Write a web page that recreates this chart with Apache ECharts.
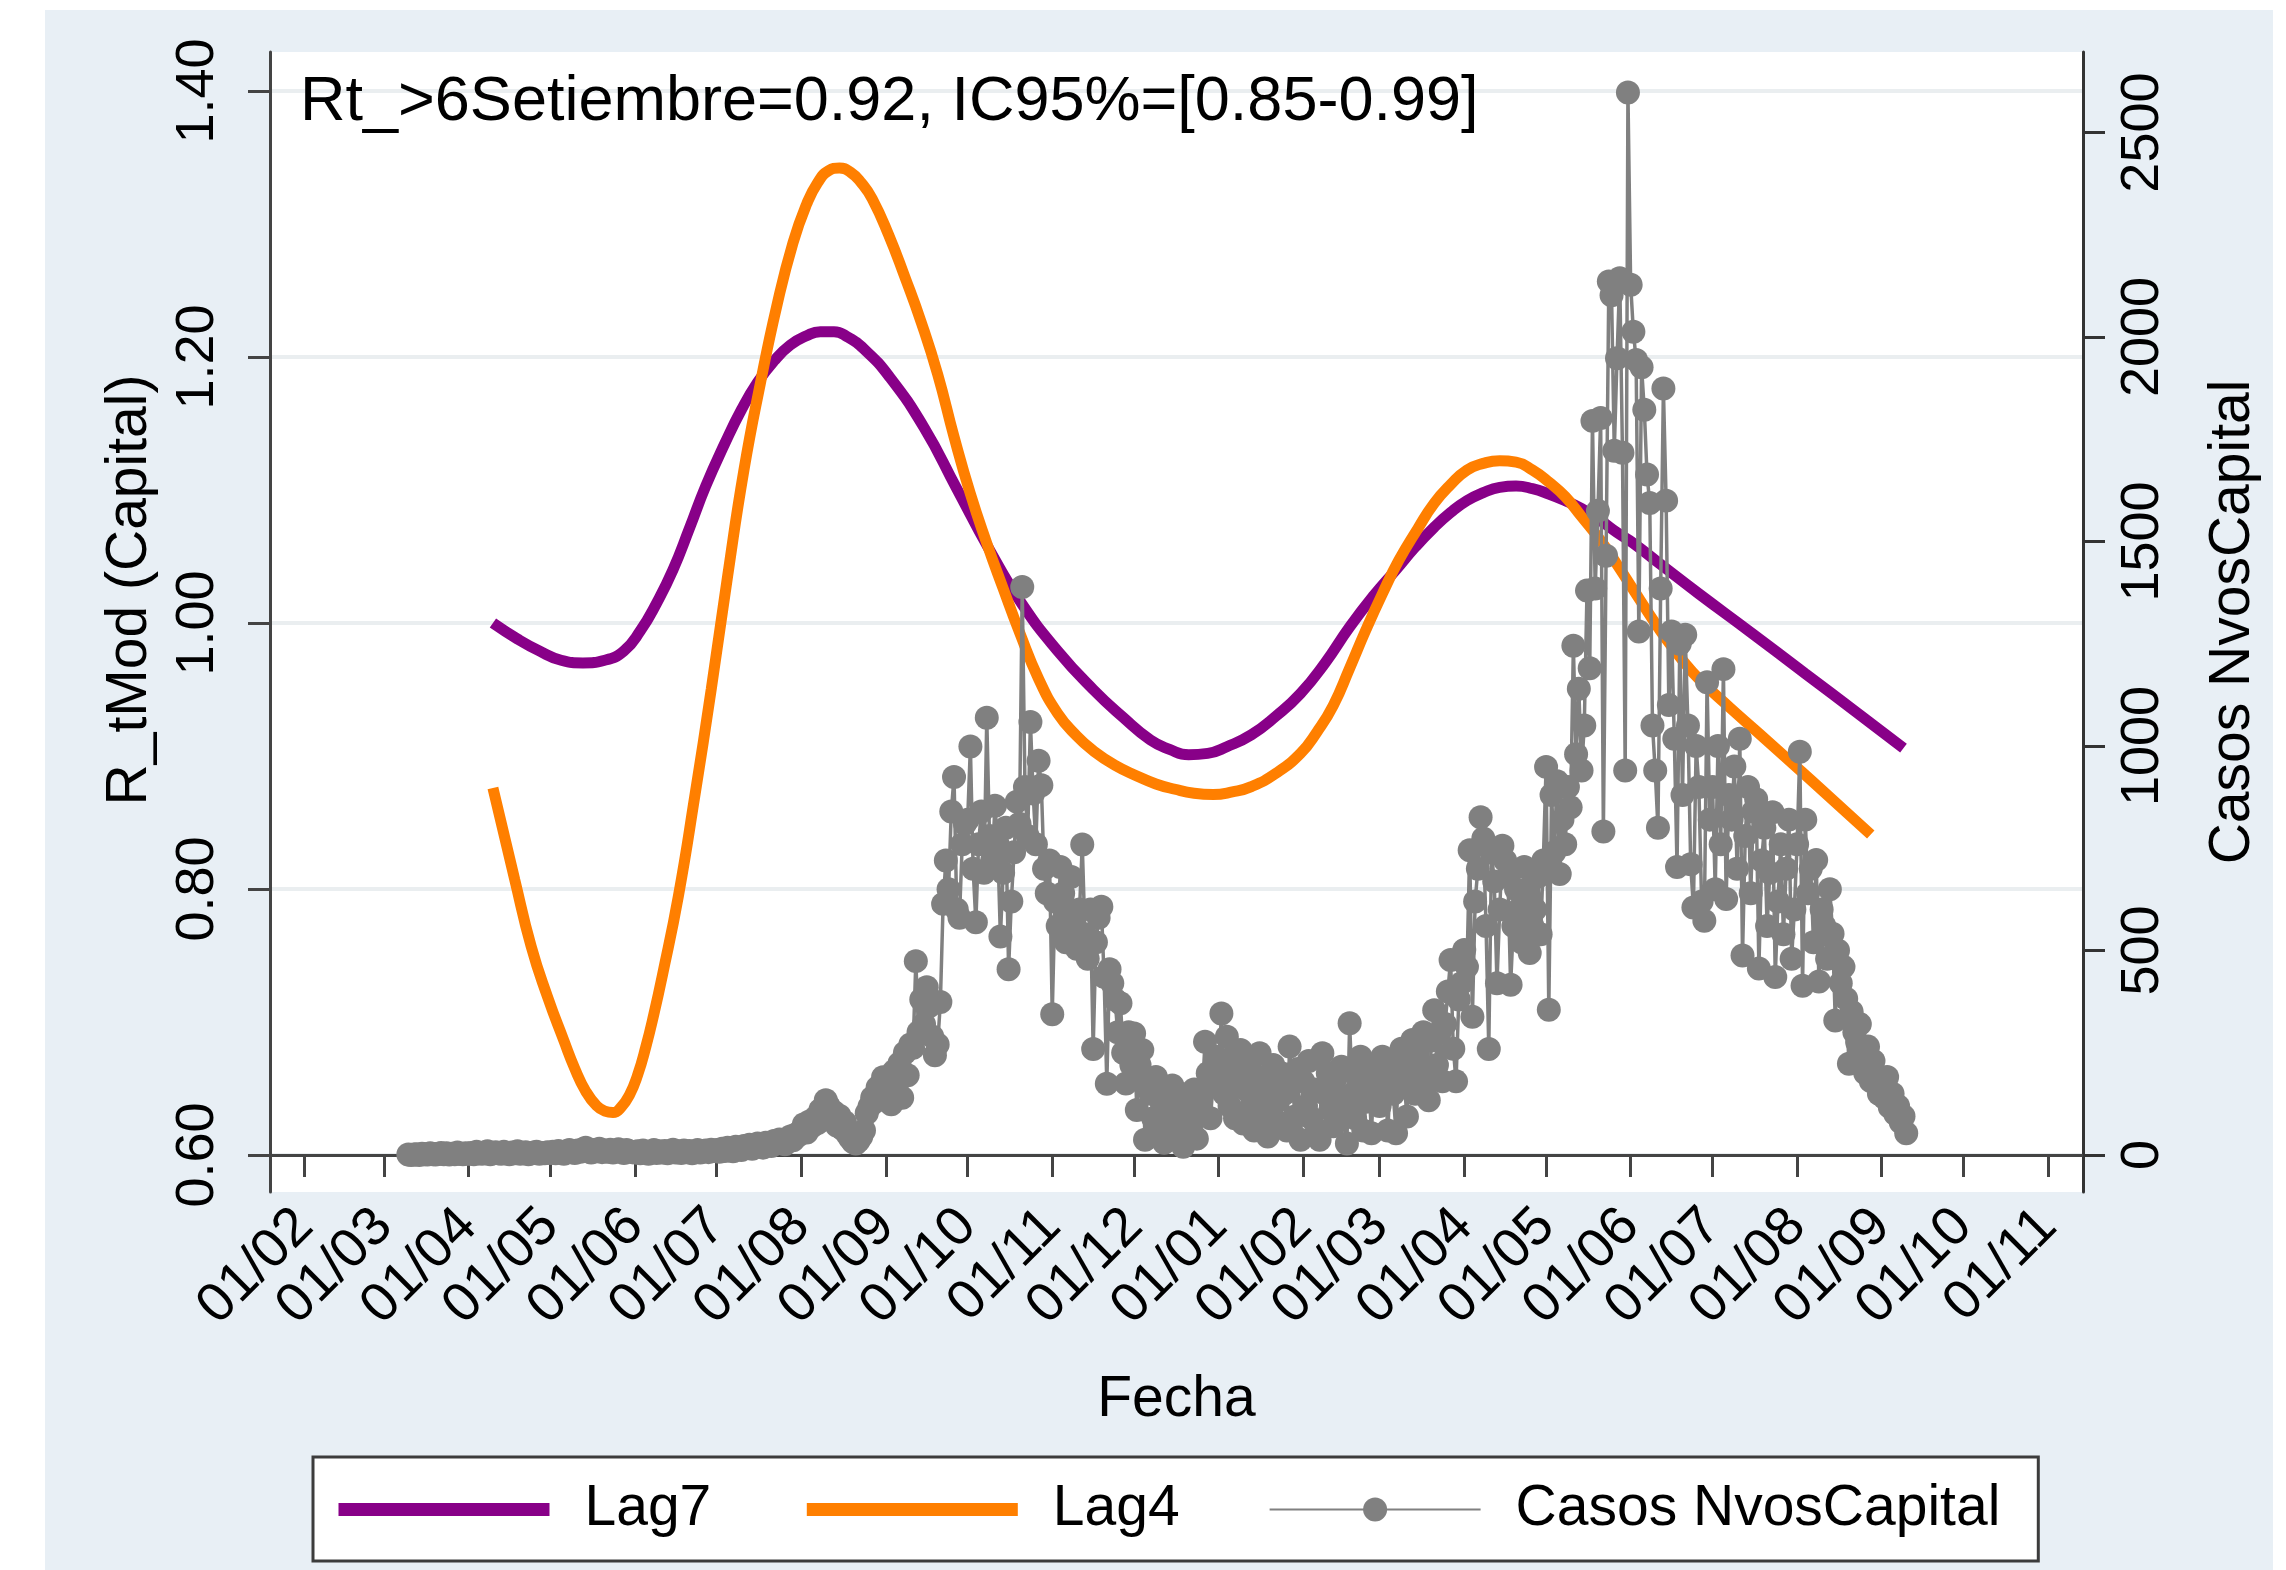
<!DOCTYPE html>
<html>
<head>
<meta charset="utf-8">
<title>R_tMod Capital</title>
<script src="https://cdn.jsdelivr.net/npm/echarts@6/dist/echarts.min.js"></script>
<style>
  html, body { margin: 0; padding: 0; background: #fff; }
  #Charts { width: 2286px; height: 1570px; }
</style>
</head>
<body>
<div id="Charts"></div>
<script>
// ticks del eje x (inicio de cada mes)
const fechaTicks = ['2020-02-01', '2020-03-01', '2020-04-01', '2020-05-01', '2020-06-01', '2020-07-01',
  '2020-08-01', '2020-09-01', '2020-10-01', '2020-11-01', '2020-12-01', '2021-01-01', '2021-02-01',
  '2021-03-01', '2021-04-01', '2021-05-01', '2021-06-01', '2021-07-01', '2021-08-01', '2021-09-01',
  '2021-10-01', '2021-11-01']
const xMin = '2020-01-19 07:00'
const xMax = '2021-11-13 19:00'

const rtTicks = [0.6, 0.8, 1.0, 1.2, 1.4]
const casosTicks = [0, 500, 1000, 1500, 2000, 2500]

// Lag7
const lag7Fechas = ['2020-04-10', '2020-04-19', '2020-04-27', '2020-05-05', '2020-05-13', '2020-05-21', '2020-05-28',
  '2020-06-03', '2020-06-09', '2020-06-15', '2020-06-21', '2020-06-27', '2020-07-04', '2020-07-10', '2020-07-16',
  '2020-07-22', '2020-07-28', '2020-08-03', '2020-08-08', '2020-08-13', '2020-08-18', '2020-08-24', '2020-09-02',
  '2020-09-15', '2020-09-27', '2020-10-09', '2020-10-21', '2020-11-03', '2020-11-16', '2020-11-27', '2020-12-07',
  '2020-12-14', '2020-12-21', '2020-12-28', '2021-01-04', '2021-01-13', '2021-01-22', '2021-01-31', '2021-02-09',
  '2021-02-18', '2021-02-27', '2021-03-07', '2021-03-14', '2021-03-21', '2021-03-27', '2021-04-02', '2021-04-08',
  '2021-04-14', '2021-04-20', '2021-04-26', '2021-05-02', '2021-05-08', '2021-05-14', '2021-05-21', '2021-05-27',
  '2021-06-02', '2021-06-12', '2021-06-26', '2021-07-15', '2021-08-04', '2021-08-24', '2021-09-09']
const lag7Valores = [1.000, 0.988, 0.979, 0.972, 0.970, 0.972, 0.979, 0.994, 1.015, 1.040, 1.071, 1.103, 1.135, 1.160,
  1.181, 1.197, 1.209, 1.216, 1.219, 1.219, 1.215, 1.206, 1.186, 1.147, 1.101, 1.055, 1.014, 0.979, 0.950, 0.929,
  0.912, 0.905, 0.901, 0.902, 0.907, 0.916, 0.930, 0.947, 0.970, 0.997, 1.021, 1.040, 1.057, 1.072, 1.083, 1.092,
  1.098, 1.102, 1.103, 1.101, 1.097, 1.092, 1.086, 1.077, 1.068, 1.060, 1.044, 1.022, 0.993, 0.962, 0.931, 0.906]

// Lag4
const lag4Fechas = ['2020-04-10', '2020-04-18', '2020-04-24', '2020-04-30', '2020-05-06', '2020-05-10', '2020-05-14',
  '2020-05-18', '2020-05-21', '2020-05-24', '2020-05-27', '2020-05-30', '2020-06-02', '2020-06-05', '2020-06-08',
  '2020-06-11', '2020-06-17', '2020-06-23', '2020-06-29', '2020-07-05', '2020-07-11', '2020-07-17', '2020-07-23',
  '2020-07-29', '2020-08-03', '2020-08-07', '2020-08-11', '2020-08-15', '2020-08-19', '2020-08-23', '2020-08-27',
  '2020-09-02', '2020-09-08', '2020-09-14', '2020-09-20', '2020-09-26', '2020-10-02', '2020-10-08', '2020-10-14',
  '2020-10-20', '2020-10-27', '2020-11-03', '2020-11-10', '2020-11-16', '2020-11-24', '2020-12-02', '2020-12-09',
  '2020-12-16', '2020-12-23', '2020-12-30', '2021-01-06', '2021-01-13', '2021-01-22', '2021-01-31', '2021-02-06',
  '2021-02-12', '2021-02-18', '2021-02-24', '2021-03-02', '2021-03-08', '2021-03-15', '2021-03-21', '2021-03-27',
  '2021-04-02', '2021-04-08', '2021-04-14', '2021-04-20', '2021-04-26', '2021-05-02', '2021-05-08', '2021-05-14',
  '2021-05-21', '2021-05-27', '2021-06-02', '2021-06-08', '2021-06-14', '2021-06-20', '2021-06-26', '2021-07-07',
  '2021-07-18', '2021-08-06', '2021-08-28']
const lag4Valores = [0.876, 0.807, 0.757, 0.719, 0.686, 0.665, 0.648, 0.637, 0.633, 0.632, 0.636, 0.645, 0.660, 0.681,
  0.706, 0.734, 0.795, 0.870, 0.950, 1.035, 1.115, 1.180, 1.238, 1.286, 1.315, 1.331, 1.340, 1.342, 1.339, 1.331,
  1.319, 1.292, 1.260, 1.226, 1.187, 1.140, 1.097, 1.060, 1.026, 0.993, 0.958, 0.932, 0.915, 0.904, 0.893, 0.885,
  0.879, 0.875, 0.872, 0.871, 0.873, 0.877, 0.887, 0.902, 0.918, 0.938, 0.966, 0.995, 1.022, 1.047, 1.071, 1.090,
  1.104, 1.115, 1.120, 1.122, 1.121, 1.115, 1.106, 1.095, 1.080, 1.062, 1.044, 1.025, 1.006, 0.988, 0.972, 0.958,
  0.937, 0.917, 0.882, 0.841]

// Casos nuevos diarios, desde casosInicio
const casosInicio = '2020-03-10'
const casosMar20 = [1, 0, 1, 2, 0, 3, 2, 1, 4, 2, 1, 3, 5, 2, 4, 1, 3, 2, 6, 3, 2, 4]
const casosAbr20 = [3, 5, 2, 8, 4, 3, 6, 9, 2, 5, 7, 4, 3, 8, 5, 2, 6, 4, 9, 3, 5, 7, 2, 4, 6, 8, 3, 5, 4, 7]
const casosMay20 = [5, 8, 4, 10, 6, 3, 9, 12, 7, 5, 11, 8, 14, 18, 10, 6, 12, 9, 15, 7, 11, 8, 13, 6, 10, 14, 8, 5, 12, 9, 7]
const casosJun20 = [6, 9, 4, 11, 7, 3, 8, 12, 5, 9, 6, 10, 4, 8, 13, 6, 9, 5, 11, 7, 10, 4, 8, 12, 6, 9, 11, 7, 13, 10]
const casosJul20 = [12, 8, 15, 10, 18, 14, 9, 20, 16, 12, 22, 18, 25, 15, 20, 28, 24, 18, 30, 26, 22, 34, 28, 38, 32, 26,
  40, 45, 36, 50, 48]
const casosAgo20 = [60, 75, 55, 82, 70, 90, 78, 110, 95, 134, 120, 88, 105, 72, 96, 64, 80, 50, 40, 32, 28, 35, 45, 60, 102,
  118, 140, 130, 165, 150, 190]
const casosSet20 = [150, 185, 124, 205, 170, 224, 140, 250, 195, 270, 262, 474, 300, 380, 320, 410, 364, 290, 244, 270, 374,
  614, 720, 650, 840, 924, 600, 580, 760, 810]
const casosOct20 = [820, 999, 700, 569, 760, 840, 690, 1069, 780, 720, 854, 760, 534, 690, 800, 454, 620, 740, 864, 810,
  1389, 900, 780, 1059, 884, 760, 964, 904, 700, 640, 720]
const casosNov20 = [344, 620, 560, 704, 640, 520, 600, 680, 560, 504, 600, 759, 540, 480, 600, 259, 520, 580, 607, 436, 174,
  454, 420, 380, 300, 371, 250, 175, 300, 220]
const casosDic20 = [297, 110, 220, 257, 37, 180, 150, 90, 191, 60, 140, 30, 120, 80, 170, 45, 100, 150, 20, 130, 90, 60, 160,
  40, 110, 150, 277, 200, 90, 180, 240]
const casosEne21 = [200, 346, 150, 289, 120, 230, 90, 180, 257, 77, 160, 210, 120, 60, 190, 249, 100, 140, 45, 170, 220, 130,
  80, 200, 150, 60, 265, 175, 94, 210, 37]
const casosFeb21 = [180, 120, 230, 90, 160, 60, 37, 249, 150, 200, 110, 70, 190, 140, 216, 100, 28, 322, 150, 90, 200, 240,
  60, 130, 180, 53, 210, 150]
const casosMar21 = [120, 240, 180, 60, 200, 150, 53, 230, 260, 180, 94, 220, 281, 150, 250, 200, 300, 170, 134, 280, 354,
  220, 300, 180, 320, 400, 477, 260, 180, 380, 420]
const casosAbr21 = [501, 460, 745, 338, 620, 700, 826, 774, 560, 259, 739, 669, 420, 600, 756, 720, 680, 416, 560, 650, 600,
  520, 704, 640, 494, 560, 600, 680, 540, 720]
const casosMay21 = [949, 355, 880, 740, 914, 687, 820, 760, 900, 850, 1245, 980, 1140, 940, 1050, 1380, 1190, 1795, 1385,
  1575, 1802, 791, 1465, 2136, 2102, 1722, 1948, 2144, 1717, 940, 2598]
const casosJun21 = [2128, 2013, 1944, 1280, 1926, 1822, 1664, 1594, 1050, 940, 800, 1385, 1874, 1600, 1100, 1280, 1018, 704,
  1250, 880, 1272, 1050, 711, 605, 1000, 900, 620, 573, 1156, 820]
const casosJul21 = [900, 650, 1000, 760, 1188, 626, 880, 820, 950, 700, 1018, 488, 780, 900, 640, 840, 870, 456, 720, 800,
  560, 690, 838, 435, 620, 760, 540, 700, 820, 480, 600]
const casosAgo21 = [760, 986, 414, 820, 640, 700, 520, 721, 424, 600, 560, 480, 650, 541, 329, 500, 420, 460, 382, 223, 350,
  300, 276, 320, 240, 200, 265, 181, 230, 190, 150]
const casosSet21 = [170, 140, 191, 117, 150, 100, 120, 80, 95, 53]

const casosValores = [].concat(casosMar20, casosAbr20, casosMay20, casosJun20, casosJul20, casosAgo20, casosSet20,
  casosOct20, casosNov20, casosDic20, casosEne21, casosFeb21, casosMar21, casosAbr21, casosMay21, casosJun21,
  casosJul21, casosAgo21, casosSet21)

const FONT = "'Liberation Sans', Arial, sans-serif"
const pad2 = (n) => (n < 10 ? '0' + n : '' + n)
const parse = (s) => +echarts.time.parse(s)

const [cy, cm, cd] = casosInicio.split('-').map(Number)
const casosData = casosValores.map((v, i) => [new Date(cy, cm - 1, cd + i).getTime(), v])
const lag7Data = lag7Fechas.map((f, i) => [parse(f), lag7Valores[i]])
const lag4Data = lag4Fechas.map((f, i) => [parse(f), lag4Valores[i]])
const tickValores = fechaTicks.map(parse)

let chart = echarts.init(document.getElementById('Charts'))
let option = {
  animation: false,
  textStyle: { fontFamily: FONT },
  graphic: [{
    type: 'rect',
    z: -10,
    silent: true,
    shape: { x: 45, y: 10, width: 2228, height: 1560 },
    style: { fill: '#e8eff5' }
  }],
  title: {
    text: 'Rt_>6Setiembre=0.92, IC95%=[0.85-0.99]',
    left: 300,
    top: 71,
    padding: 0,
    textStyle: { fontFamily: FONT, fontSize: 63, fontWeight: 'normal', color: '#000' }
  },
  grid: {
    left: 270, right: 203, top: 52, bottom: 378,
    show: true, backgroundColor: '#fff', borderWidth: 0
  },
  legend: {
    left: 313, top: 1457,
    padding: [24, 38, 23, 19],
    backgroundColor: '#fff',
    borderColor: '#3c3c3c',
    borderWidth: 3,
    borderRadius: 0,
    itemWidth: 211,
    itemHeight: 30,
    itemGap: 89,
    textStyle: { fontFamily: FONT, fontSize: 57, color: '#000', padding: [0, 0, 0, 30] },
    data: [
      { name: 'Lag7', itemStyle: { opacity: 0 }, lineStyle: { width: 13 } },
      { name: 'Lag4', itemStyle: { opacity: 0 }, lineStyle: { width: 13 } },
      { name: 'Casos NvosCapital' }
    ]
  },
  xAxis: {
    type: 'value',
    min: parse(xMin),
    max: parse(xMax),
    name: 'Fecha',
    nameLocation: 'middle',
    nameGap: 180,
    nameTextStyle: { fontFamily: FONT, fontSize: 57, color: '#000' },
    axisLine: { show: true, lineStyle: { color: '#444', width: 3 } },
    axisTick: { show: true, length: 22, lineStyle: { color: '#444', width: 3 }, customValues: tickValores },
    axisLabel: {
      customValues: tickValores,
      rotate: 45,
      margin: 26,
      fontFamily: FONT,
      fontSize: 55,
      color: '#000',
      formatter: function (value) {
        let d = new Date(value)
        return pad2(d.getDate()) + '/' + pad2(d.getMonth() + 1)
      }
    },
    splitLine: { show: false }
  },
  yAxis: [
    {
      type: 'value',
      position: 'left',
      min: 0.5722,
      max: 1.4293,
      name: 'R_tMod (Capital)',
      nameLocation: 'middle',
      nameGap: 111,
      nameTextStyle: { fontFamily: FONT, fontSize: 57, color: '#000', padding: [0, 0, 0, 64] },
      axisLine: { show: true, lineStyle: { color: '#444', width: 3 } },
      axisTick: { show: true, length: 22, lineStyle: { color: '#444', width: 3 }, customValues: rtTicks },
      axisLabel: {
        customValues: rtTicks,
        rotate: 90,
        margin: 45,
        fontFamily: FONT,
        fontSize: 54,
        color: '#000',
        formatter: (v) => v.toFixed(2)
      },
      splitLine: { show: true, lineStyle: { color: '#eaeef0', width: 4 } }
    },
    {
      type: 'value',
      position: 'right',
      min: -90.5,
      max: 2697,
      name: 'Casos NvosCapital',
      nameLocation: 'middle',
      nameGap: 122,
      nameTextStyle: { fontFamily: FONT, fontSize: 57, color: '#000' },
      axisLine: { show: true, lineStyle: { color: '#333', width: 3 } },
      axisTick: { show: true, length: 22, lineStyle: { color: '#333', width: 3 }, customValues: casosTicks },
      axisLabel: {
        customValues: casosTicks,
        rotate: 90,
        margin: 33,
        fontFamily: FONT,
        fontSize: 54,
        color: '#000',
        formatter: (v) => String(Math.round(v))
      },
      splitLine: { show: false }
    }
  ],
  series: [
    {
      name: 'Lag7',
      type: 'line',
      yAxisIndex: 0,
      smooth: 0.5,
      symbol: 'none',
      lineStyle: { color: '#880088', width: 11 },
      itemStyle: { color: '#880088' },
      data: lag7Data
    },
    {
      name: 'Lag4',
      type: 'line',
      yAxisIndex: 0,
      smooth: 0.5,
      symbol: 'none',
      lineStyle: { color: '#ff7f00', width: 11 },
      itemStyle: { color: '#ff7f00' },
      data: lag4Data
    },
    {
      name: 'Casos NvosCapital',
      type: 'line',
      yAxisIndex: 1,
      symbol: 'circle',
      symbolSize: 24,
      showAllSymbol: true,
      lineStyle: { color: '#808080', width: 3.5 },
      itemStyle: { color: '#808080' },
      data: casosData
    }
  ]
}
chart.setOption(option)
</script>
</body>
</html>
